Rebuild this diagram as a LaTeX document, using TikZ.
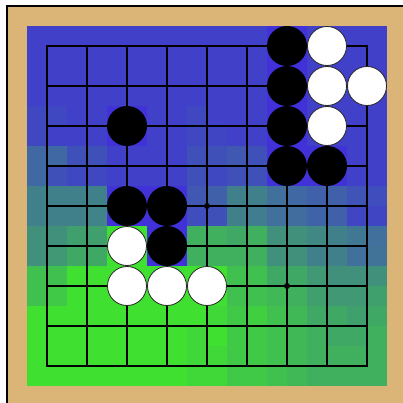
\documentclass[tikz,border=0pt]{standalone}
\definecolor{cb}{RGB}{64,64,200}
\definecolor{cg}{RGB}{64,224,48}
\definecolor{sb}{RGB}{64,50,216}
\definecolor{tanc}{RGB}{219,180,120}
\tikzset{
  gridline/.style={line width=1.1pt, black},
  boardedge/.style={line width=1.6pt, black},
  blackstone/.style={fill=black},
  whitestone/.style={fill=white, draw=black!85, line width=0.8pt},
  stonebg/.style={fill=sb}
}
\begin{document}
\begin{tikzpicture}[x=1pt,y=-1pt]
\useasboundingbox (0,0) rectangle (403,403);
\fill[white] (0,0) rectangle (403,403);
\fill[tanc] (7,6) rectangle (403,403);
\draw[line width=1.2pt] (7,403) -- (7,6) -- (403,6);
% influence cells
\foreach \row [count=\r from 0] in {
{0,0,0,0,0,0,0,0,0,0,0,0,0,0,0,0,0,0},
{0,0,0,0,0,0,0,0,0,0,0,0,0,0,0,0,0,0},
{0,0,0,0,0,0,0,0,0,0,0,0,0,0,0,0,0,0},
{0,0,0,0,0,0,0,0,0,0,0,0,0,0,0,0,0,0},
{5,5,0,0,0,0,0,0,5,0,0,0,0,0,0,0,0,0},
{5,0,0,0,0,0,0,0,5,3,0,0,0,0,0,0,0,0},
{25,25,10,10,0,0,0,0,10,10,15,10,0,0,0,0,0,0},
{25,10,5,5,0,0,0,0,10,5,10,10,0,0,0,0,0,0},
{40,40,40,40,0,0,0,0,15,20,40,40,30,25,20,20,12,8},
{40,40,40,42,0,0,0,0,8,10,40,38,30,28,22,20,3,3},
{50,50,60,60,100,100,0,0,70,70,65,70,50,50,45,40,35,30},
{50,55,65,65,100,100,0,0,70,70,70,70,50,50,40,40,30,32},
{80,80,100,100,100,100,100,100,100,100,80,80,65,65,55,50,50,50},
{80,85,100,100,100,100,100,100,100,100,80,80,75,70,60,55,55,60},
{100,100,100,100,100,100,100,100,100,95,85,90,80,75,65,65,60,65},
{100,100,100,100,100,100,100,100,95,100,85,85,80,75,70,65,65,70},
{100,100,100,100,100,100,100,100,95,95,85,85,80,75,70,70,70,70},
{100,100,100,100,100,100,100,100,95,95,85,85,80,75,70,70,70,70}} {
  \foreach \v [count=\c from 0] in \row {
    \fill[cg!\v!cb] ({27+20*\c},{26+20*\r}) rectangle +(20.3,20.3);
  }
}
% stone-blue squares under black stones
\foreach \i/\j in {6/0,6/1,6/2,6/3,7/3,2/2,2/4,3/4,3/5} {
  \fill[stonebg] ({27+40*\i},{26+40*\j}) rectangle +(40,40);
}
% grid
\foreach \k in {0,...,8} {
  \draw[gridline] ({47+40*\k},46) -- ({47+40*\k},366);
  \draw[gridline] (47,{46+40*\k}) -- (367,{46+40*\k});
}
\draw[boardedge] (47,46) rectangle (367,366);
% star points
\fill (207,206) circle (3pt);
\fill (287,286) circle (3pt);
% stones
\foreach \i/\j in {6/0,6/1,6/2,6/3,7/3,2/2,2/4,3/4,3/5} {
  \fill[blackstone] ({47+40*\i},{46+40*\j}) circle (20pt);
}
\foreach \i/\j in {7/0,7/1,8/1,7/2,2/5,2/6,3/6,4/6} {
  \filldraw[whitestone] ({47+40*\i},{46+40*\j}) circle (19.5pt);
}
\end{tikzpicture}
\end{document}
